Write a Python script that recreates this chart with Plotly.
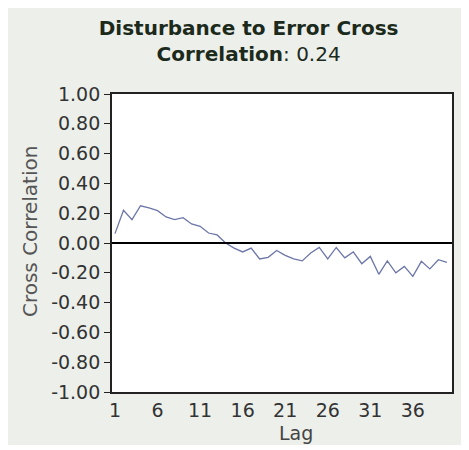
import plotly.graph_objects as go

lags = list(range(1, 41))
cross_corr = [0.063, 0.22, 0.157, 0.25, 0.235, 0.217, 0.175, 0.157, 0.17, 0.128,
              0.112, 0.067, 0.054, 0.0, -0.034, -0.06, -0.034, -0.107, -0.096, -0.05,
              -0.083, -0.107, -0.12, -0.067, -0.03, -0.107, -0.03, -0.10, -0.06, -0.139,
              -0.09, -0.21, -0.12, -0.20, -0.157, -0.224, -0.123, -0.174, -0.112, -0.13]
y_ticks = [1.0, 0.8, 0.6, 0.4, 0.2, 0.0, -0.2, -0.4, -0.6, -0.8, -1.0]
y_tick_labels = ["1.00", "0.80", "0.60", "0.40", "0.20", "0.00", "-0.20", "-0.40", "-0.60", "-0.80", "-1.00"]
x_ticks = [1, 6, 11, 16, 21, 26, 31, 36]

FONT = "DejaVu Sans"
fig = go.Figure()
fig.add_trace(go.Scatter(x=lags, y=cross_corr, mode="lines",
                         line=dict(color="#6c76a8", width=1.3), showlegend=False))

fig.update_layout(
    width=461, height=437,
    margin=dict(l=104, r=17, t=86, b=53),
    paper_bgcolor="#ecefea", plot_bgcolor="white",
    font=dict(family=FONT, color="#333"),
    title=dict(text="<b>Disturbance to Error Cross</b><br><b>Correlation</b>: 0.24",
               x=0.522, xanchor="center", y=0.939, yanchor="middle",
               font=dict(family=FONT, size=20, color="#1c2a1c")),
    shapes=[
        dict(type="line", xref="paper", yref="y", x0=0, x1=1, y0=0, y1=0,
             line=dict(color="black", width=1.8)),
    ],
    annotations=[
        dict(text="Cross Correlation", textangle=-90, xref="paper", yref="paper",
             x=-0.241, y=0.537, xanchor="center", yanchor="middle", showarrow=False,
             font=dict(family=FONT, size=20, color="#555")),
        dict(text="Lag", xref="paper", yref="paper", x=0.541, y=-0.138,
             xanchor="center", yanchor="middle", showarrow=False,
             font=dict(family=FONT, size=19, color="#444")),
    ],
)
fig.update_xaxes(range=[0.65, 40.6], tickvals=x_ticks, ticks="", showgrid=False,
                 zeroline=False, showline=True, linecolor="#222", linewidth=1.8, mirror=True,
                 tickfont=dict(size=19, color="#333"))
fig.update_yaxes(range=[-1, 1], tickvals=y_ticks, ticktext=y_tick_labels, ticks="outside",
                 ticklen=6, tickcolor="#222", showgrid=False, zeroline=False,
                 showline=True, linecolor="#222", linewidth=1.8, mirror=True,
                 tickfont=dict(size=19, color="#333"))
fig.write_html("out.html")
